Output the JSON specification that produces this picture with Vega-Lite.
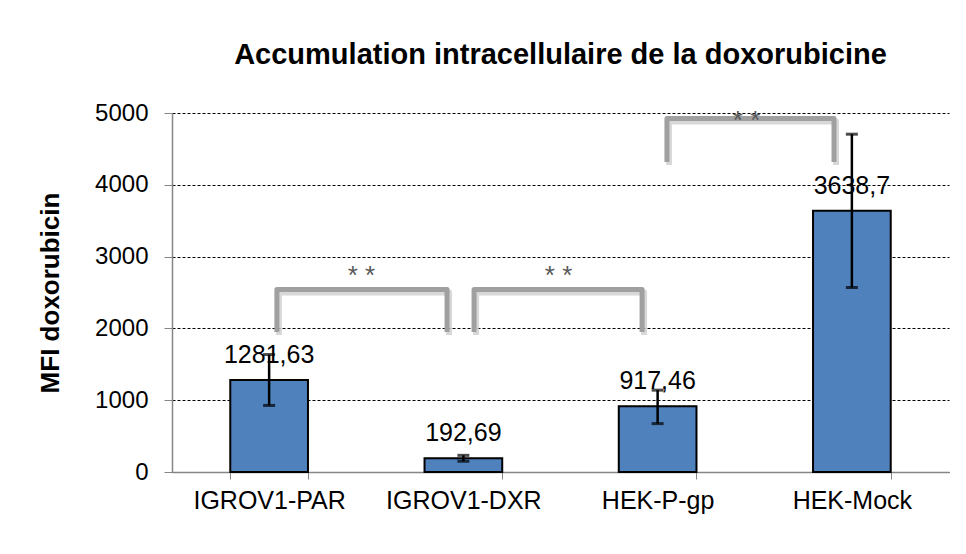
{
  "$schema": "https://vega.github.io/schema/vega-lite/v6.json",
  "width": 777,
  "height": 359,
  "autosize": {"type": "none"},
  "padding": {"left": 172, "top": 113, "right": 17, "bottom": 82},
  "background": "white",
  "config": {"view": {"stroke": null}, "font": "Liberation Sans"},
  "title": {
    "text": "Accumulation intracellulaire de la doxorubicine",
    "font": "Liberation Sans",
    "fontSize": 29,
    "fontWeight": "bold",
    "color": "#000000",
    "anchor": "middle",
    "offset": 31
  },
  "datasets": {
    "bars": [
      {"lignee": "IGROV1-PAR", "mfi": 1281.63, "bas": 927, "haut": 1636, "label": "1281,63"},
      {"lignee": "IGROV1-DXR", "mfi": 192.69, "bas": 150, "haut": 232, "label": "192,69"},
      {"lignee": "HEK-P-gp", "mfi": 917.46, "bas": 674, "haut": 1140, "label": "917,46"},
      {"lignee": "HEK-Mock", "mfi": 3638.7, "bas": 2570, "haut": 4705, "label": "3638,7"}
    ],
    "brackets": [
      {"paire": "a", "ordre": 1, "pos": 0.54, "val": 1950},
      {"paire": "a", "ordre": 2, "pos": 0.54, "val": 2541},
      {"paire": "a", "ordre": 3, "pos": 1.416, "val": 2541},
      {"paire": "a", "ordre": 4, "pos": 1.416, "val": 1950},
      {"paire": "b", "ordre": 1, "pos": 1.555, "val": 1950},
      {"paire": "b", "ordre": 2, "pos": 1.555, "val": 2541},
      {"paire": "b", "ordre": 3, "pos": 2.42, "val": 2541},
      {"paire": "b", "ordre": 4, "pos": 2.42, "val": 1950},
      {"paire": "c", "ordre": 1, "pos": 2.548, "val": 4318},
      {"paire": "c", "ordre": 2, "pos": 2.548, "val": 4922},
      {"paire": "c", "ordre": 3, "pos": 3.408, "val": 4922},
      {"paire": "c", "ordre": 4, "pos": 3.408, "val": 4318}
    ],
    "stars": [
      {"pos": 0.975, "val": 2786, "txt": "* *"},
      {"pos": 1.99, "val": 2786, "txt": "* *"},
      {"pos": 2.958, "val": 4944, "txt": "* *"}
    ]
  },
  "layer": [
    {
      "data": {"name": "bars"},
      "encoding": {
        "x": {
          "field": "lignee",
          "type": "nominal",
          "sort": null,
          "scale": {"paddingInner": 0.6, "paddingOuter": 0.3},
          "axis": {
            "title": null,
            "labelAngle": 0,
            "labelFontSize": 25,
            "labelColor": "#000000",
            "labelPadding": 9,
            "tickBand": "extent",
            "tickSize": 7,
            "tickColor": "#868686",
            "domainColor": "#868686",
            "domainWidth": 1.5,
            "grid": false
          }
        }
      },
      "layer": [
        {
          "mark": {"type": "bar", "color": "#4F81BD", "stroke": "#000000", "strokeWidth": 2},
          "encoding": {
            "y": {
              "field": "mfi",
              "type": "quantitative",
              "scale": {"domain": [0, 5000], "nice": false},
              "axis": {
                "title": "MFI doxorubicin",
                "titleFontSize": 26,
                "titleFontWeight": "bold",
                "titleColor": "#000000",
                "titlePadding": 31,
                "format": "d",
                "values": [0, 500, 1000, 1500, 2000, 2500, 3000, 3500, 4000, 4500, 5000],
                "labelFontSize": 24,
                "labelColor": "#000000",
                "labelPadding": 16,
                "tickSize": 8,
                "tickColor": "#868686",
                "domainColor": "#868686",
                "domainWidth": 1.5,
                "grid": true,
                "gridColor": "#000000",
                "gridDash": [3, 2],
                "gridWidth": 1
              }
            }
          }
        },
        {
          "mark": {"type": "rule", "color": "#000000", "strokeWidth": 2.5},
          "encoding": {
            "y": {"field": "bas", "type": "quantitative"},
            "y2": {"field": "haut"}
          }
        },
        {
          "mark": {"type": "tick", "color": "#000000", "thickness": 3, "size": 12},
          "encoding": {"y": {"field": "bas", "type": "quantitative"}}
        },
        {
          "mark": {"type": "tick", "color": "#000000", "thickness": 3, "size": 12},
          "encoding": {"y": {"field": "haut", "type": "quantitative"}}
        },
        {
          "mark": {"type": "text", "fontSize": 25, "color": "#000000", "baseline": "bottom", "dy": -12},
          "encoding": {
            "y": {"field": "mfi", "type": "quantitative"},
            "text": {"field": "label"}
          }
        }
      ]
    },
    {
      "data": {"name": "brackets"},
      "layer": [
        {
          "mark": {"type": "line", "color": "#c8c8c8", "strokeWidth": 6, "strokeJoin": "round", "xOffset": 2, "yOffset": 3, "opacity": 0.7},
          "encoding": {
            "x": {"field": "pos", "type": "quantitative", "scale": {"domain": [0, 4], "nice": false, "zero": false}, "axis": null},
            "y": {"field": "val", "type": "quantitative", "scale": {"domain": [0, 5000], "nice": false}},
            "detail": {"field": "paire"},
            "order": {"field": "ordre"}
          }
        },
        {
          "mark": {"type": "line", "color": "#a0a0a0", "strokeWidth": 5, "strokeJoin": "round"},
          "encoding": {
            "x": {"field": "pos", "type": "quantitative", "scale": {"domain": [0, 4], "nice": false, "zero": false}, "axis": null},
            "y": {"field": "val", "type": "quantitative", "scale": {"domain": [0, 5000], "nice": false}},
            "detail": {"field": "paire"},
            "order": {"field": "ordre"}
          }
        }
      ]
    },
    {
      "data": {"name": "stars"},
      "mark": {"type": "text", "fontSize": 26, "color": "#595959", "baseline": "middle", "dy": 4},
      "encoding": {
        "x": {"field": "pos", "type": "quantitative", "scale": {"domain": [0, 4], "nice": false, "zero": false}, "axis": null},
        "y": {"field": "val", "type": "quantitative", "scale": {"domain": [0, 5000], "nice": false}},
        "text": {"field": "txt"}
      }
    }
  ],
  "resolve": {"scale": {"x": "independent"}}
}
